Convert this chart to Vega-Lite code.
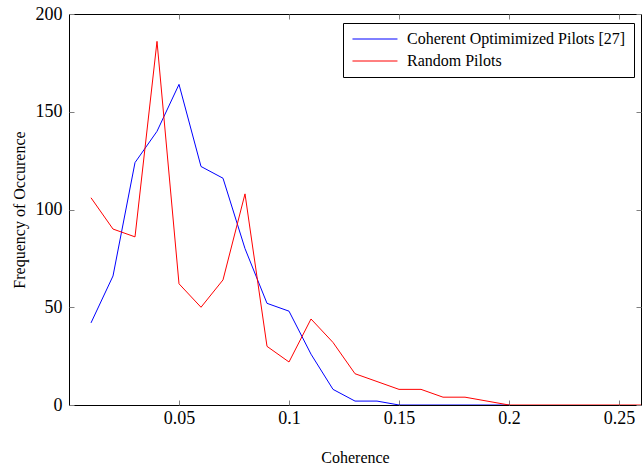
{
  "$schema": "https://vega.github.io/schema/vega-lite/v6.json",
  "width": 572,
  "height": 391,
  "autosize": "none",
  "padding": {"left": 69, "top": 14, "right": 3, "bottom": 62},
  "background": "white",
  "config": {
    "font": "'Liberation Serif', 'Times New Roman', Times, serif",
    "view": {"stroke": "black", "strokeWidth": 1},
    "axis": {
      "domain": false,
      "grid": false,
      "tickColor": "#808080",
      "tickSize": 5,
      "offset": -5,
      "labelFont": "'Liberation Serif', 'Times New Roman', Times, serif",
      "labelFontSize": 18,
      "labelColor": "black",
      "titleFont": "'Liberation Serif', 'Times New Roman', Times, serif",
      "titleFontSize": 16,
      "titleFontWeight": "normal",
      "titleColor": "black"
    },
    "legend": {
      "labelFont": "'Liberation Serif', 'Times New Roman', Times, serif",
      "labelFontSize": 16,
      "labelColor": "black"
    }
  },
  "data": {
    "values": [
      {"x": 0.01, "v": 42, "s": "Coherent Optimimized Pilots [27]"},
      {"x": 0.02, "v": 66, "s": "Coherent Optimimized Pilots [27]"},
      {"x": 0.03, "v": 124, "s": "Coherent Optimimized Pilots [27]"},
      {"x": 0.04, "v": 140, "s": "Coherent Optimimized Pilots [27]"},
      {"x": 0.05, "v": 164, "s": "Coherent Optimimized Pilots [27]"},
      {"x": 0.06, "v": 122, "s": "Coherent Optimimized Pilots [27]"},
      {"x": 0.07, "v": 116, "s": "Coherent Optimimized Pilots [27]"},
      {"x": 0.08, "v": 80, "s": "Coherent Optimimized Pilots [27]"},
      {"x": 0.09, "v": 52, "s": "Coherent Optimimized Pilots [27]"},
      {"x": 0.10, "v": 48, "s": "Coherent Optimimized Pilots [27]"},
      {"x": 0.11, "v": 26, "s": "Coherent Optimimized Pilots [27]"},
      {"x": 0.12, "v": 8, "s": "Coherent Optimimized Pilots [27]"},
      {"x": 0.13, "v": 2, "s": "Coherent Optimimized Pilots [27]"},
      {"x": 0.14, "v": 2, "s": "Coherent Optimimized Pilots [27]"},
      {"x": 0.15, "v": 0, "s": "Coherent Optimimized Pilots [27]"},
      {"x": 0.16, "v": 0, "s": "Coherent Optimimized Pilots [27]"},
      {"x": 0.17, "v": 0, "s": "Coherent Optimimized Pilots [27]"},
      {"x": 0.18, "v": 0, "s": "Coherent Optimimized Pilots [27]"},
      {"x": 0.19, "v": 0, "s": "Coherent Optimimized Pilots [27]"},
      {"x": 0.20, "v": 0, "s": "Coherent Optimimized Pilots [27]"},
      {"x": 0.01, "v": 106, "s": "Random Pilots"},
      {"x": 0.02, "v": 90, "s": "Random Pilots"},
      {"x": 0.03, "v": 86, "s": "Random Pilots"},
      {"x": 0.04, "v": 186, "s": "Random Pilots"},
      {"x": 0.05, "v": 62, "s": "Random Pilots"},
      {"x": 0.06, "v": 50, "s": "Random Pilots"},
      {"x": 0.07, "v": 64, "s": "Random Pilots"},
      {"x": 0.08, "v": 108, "s": "Random Pilots"},
      {"x": 0.09, "v": 30, "s": "Random Pilots"},
      {"x": 0.10, "v": 22, "s": "Random Pilots"},
      {"x": 0.11, "v": 44, "s": "Random Pilots"},
      {"x": 0.12, "v": 32, "s": "Random Pilots"},
      {"x": 0.13, "v": 16, "s": "Random Pilots"},
      {"x": 0.14, "v": 12, "s": "Random Pilots"},
      {"x": 0.15, "v": 8, "s": "Random Pilots"},
      {"x": 0.16, "v": 8, "s": "Random Pilots"},
      {"x": 0.17, "v": 4, "s": "Random Pilots"},
      {"x": 0.18, "v": 4, "s": "Random Pilots"},
      {"x": 0.19, "v": 2, "s": "Random Pilots"},
      {"x": 0.20, "v": 0, "s": "Random Pilots"},
      {"x": 0.21, "v": 0, "s": "Random Pilots"},
      {"x": 0.22, "v": 0, "s": "Random Pilots"},
      {"x": 0.23, "v": 0, "s": "Random Pilots"},
      {"x": 0.24, "v": 0, "s": "Random Pilots"},
      {"x": 0.25, "v": 0, "s": "Random Pilots"},
      {"x": 0.26, "v": 0, "s": "Random Pilots"}
    ]
  },
  "resolve": {"axis": {"x": "independent", "y": "independent"}},
  "layer": [
    {
      "mark": {"type": "line", "strokeWidth": 1, "clip": true},
      "encoding": {
        "x": {
          "field": "x", "type": "quantitative",
          "scale": {"domain": [0, 0.26], "nice": false, "zero": false},
          "axis": {"values": [0.05, 0.1, 0.15, 0.2, 0.25], "title": "Coherence", "labelPadding": 4, "titlePadding": 22, "format": "~g"}
        },
        "y": {
          "field": "v", "type": "quantitative",
          "scale": {"domain": [0, 200], "nice": false},
          "axis": {"values": [0, 50, 100, 150, 200], "title": "Frequency of Occurence", "labelPadding": 7, "titlePadding": 8}
        },
        "color": {
          "field": "s", "type": "nominal",
          "scale": {"domain": ["Coherent Optimimized Pilots [27]", "Random Pilots"], "range": ["#0000ff", "#ff0000"]},
          "legend": {
            "title": null,
            "orient": "none",
            "legendX": 274,
            "legendY": 9,
            "padding": 8,
            "strokeColor": "black",
            "fillColor": "white",
            "symbolType": "M-0.87,0H5.13",
            "symbolSize": 225,
            "symbolStrokeWidth": 1,
            "labelOffset": 40,
            "labelLimit": 0,
            "rowPadding": 6
          }
        }
      }
    },
    {
      "mark": {"type": "line", "strokeWidth": 0, "opacity": 0},
      "encoding": {
        "x": {
          "field": "x", "type": "quantitative",
          "scale": {"domain": [0, 0.26], "nice": false, "zero": false},
          "axis": {"orient": "top", "values": [0.05, 0.1, 0.15, 0.2, 0.25], "labels": false, "title": null}
        },
        "y": {
          "field": "v", "type": "quantitative",
          "scale": {"domain": [0, 200], "nice": false},
          "axis": {"orient": "right", "values": [0, 50, 100, 150, 200], "labels": false, "title": null}
        }
      }
    }
  ]
}
